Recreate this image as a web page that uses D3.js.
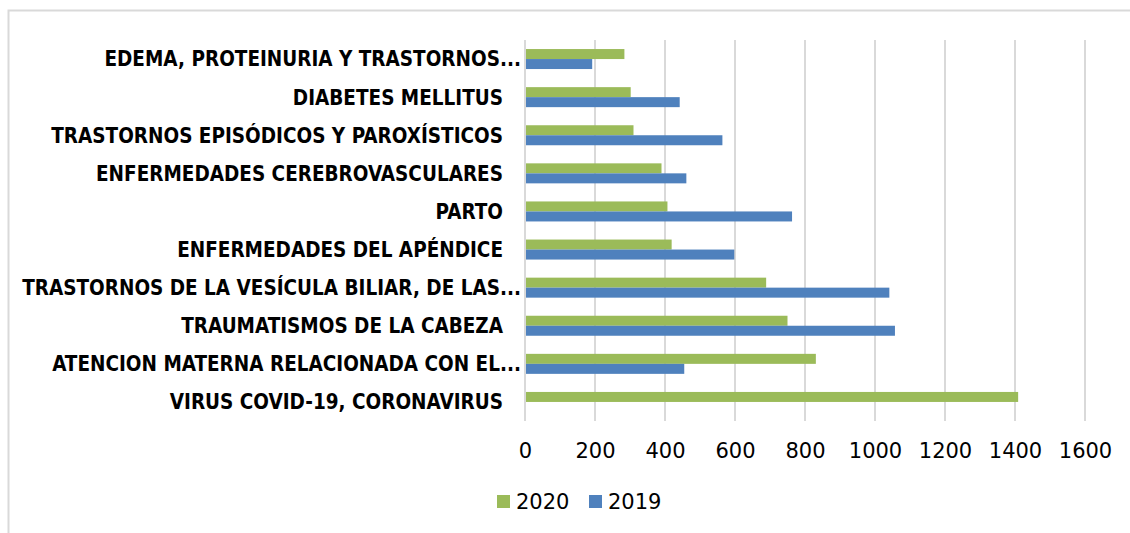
<!DOCTYPE html>
<html>
<head>
<meta charset="utf-8">
<script src="https://cdn.jsdelivr.net/npm/d3@7"></script>
<style>
  body { margin: 0; background: #fff; }
  svg { display: block; }
</style>
</head>
<body>
<div id="chart-area"></div>
<script>
// diagnosticos de egreso, 2019 vs 2020
const categories = [
  "EDEMA, PROTEINURIA Y TRASTORNOS...",
  "DIABETES MELLITUS",
  "TRASTORNOS EPISÓDICOS Y PAROXÍSTICOS",
  "ENFERMEDADES CEREBROVASCULARES",
  "PARTO",
  "ENFERMEDADES DEL APÉNDICE",
  "TRASTORNOS DE LA VESÍCULA BILIAR, DE LAS...",
  "TRAUMATISMOS DE LA CABEZA",
  "ATENCION MATERNA RELACIONADA CON EL...",
  "VIRUS COVID-19, CORONAVIRUS"
]
const values2020 = [284, 302, 310, 390, 407, 419, 689, 750, 831, 1409]
const values2019 = [192, 442, 564, 461, 763, 598, 1041, 1057, 455, 0]
const seriesNames = ["2020", "2019"]
const seriesColors = ["#9BBB59", "#4F81BD"]
const xTicks = [0, 200, 400, 600, 800, 1000, 1200, 1400, 1600]

const W = 1130, H = 533
const PLOT = { LEFT: 525, RIGHT: 1085, TOP: 40, BOTTOM: 421 }

const svg = d3.select('#chart-area')
    .append('svg')
    .attr('width', W)
    .attr('height', H)

// outer chart frame (cut by the picture edge)
svg.append('rect')
    .attr('x', 8.5).attr('y', 10.5)
    .attr('width', 1300).attr('height', 700)
    .attr('fill', 'none')
    .attr('stroke', '#d9d9d9')
    .attr('stroke-width', 2)

const x = d3.scaleLinear()
    .domain([0, 1600])
    .range([PLOT.LEFT, PLOT.RIGHT])

const y = d3.scaleBand()
    .domain(categories)
    .range([PLOT.TOP, PLOT.BOTTOM])
    .paddingInner(0.475)
    .paddingOuter(0.2375)

const ySub = d3.scaleBand()
    .domain(seriesNames)
    .range([0, y.bandwidth()])

// gridlines
svg.append('g')
  .selectAll('line')
  .data(xTicks)
  .enter()
  .append('line')
    .attr('x1', d => Math.round(x(d)))
    .attr('x2', d => Math.round(x(d)))
    .attr('y1', PLOT.TOP)
    .attr('y2', PLOT.BOTTOM)
    .attr('stroke', '#d9d9d9')
    .attr('stroke-width', 2)

// tick labels
const xAxis = svg.append('g')
    .attr('transform', `translate(0, ${ PLOT.BOTTOM })`)
    .call(d3.axisBottom(x).tickValues(xTicks).tickFormat(d3.format('d')).tickSize(0).tickPadding(22))
xAxis.select('.domain').remove()
xAxis.selectAll('text')
    .attr('fill', '#000')
    .attr('font-family', '"DejaVu Sans", sans-serif')
    .attr('font-size', 21)

// bars
const rows = categories.map((c, i) => ({ cat: c, vals: [values2020[i], values2019[i]] }))
const groups = svg.append('g')
  .selectAll('g')
  .data(rows)
  .enter()
  .append('g')
    .attr('transform', d => `translate(0, ${ y(d.cat) })`)

groups.selectAll('rect')
  .data(d => d.vals.map((v, j) => ({ key: seriesNames[j], v: v, j: j })))
  .enter()
  .filter(d => d.v > 0)
  .append('rect')
    .attr('x', x(0) + 1)
    .attr('y', d => ySub(d.key))
    .attr('width', d => x(d.v) - x(0) - 1)
    .attr('height', ySub.bandwidth())
    .attr('fill', d => seriesColors[d.j])

// category labels
svg.append('g')
  .selectAll('text')
  .data(categories)
  .enter()
  .append('text')
    .attr('x', d => d.endsWith('...') ? 521 : 503)
    .attr('y', d => y(d) + y.bandwidth() / 2)
    .attr('dy', '0.36em')
    .attr('text-anchor', 'end')
    .attr('font-family', '"DejaVu Sans Condensed", "DejaVu Sans", sans-serif')
    .attr('font-stretch', 'condensed')
    .attr('font-weight', 'bold')
    .attr('font-size', 20.5)
    .attr('fill', '#000')
    .text(d => d)

// legend
const legend = svg.append('g')
  .selectAll('g')
  .data(seriesNames)
  .enter()
  .append('g')
    .attr('transform', (d, i) => `translate(${ 497 + i * 92 }, 495)`)
legend.append('rect')
    .attr('width', 13).attr('height', 13)
    .attr('fill', (d, i) => seriesColors[i])
legend.append('text')
    .attr('x', 19)
    .attr('y', 14)
    .attr('font-family', '"DejaVu Sans", sans-serif')
    .attr('font-size', 21)
    .attr('fill', '#000')
    .text(d => d)
</script>
</body>
</html>
